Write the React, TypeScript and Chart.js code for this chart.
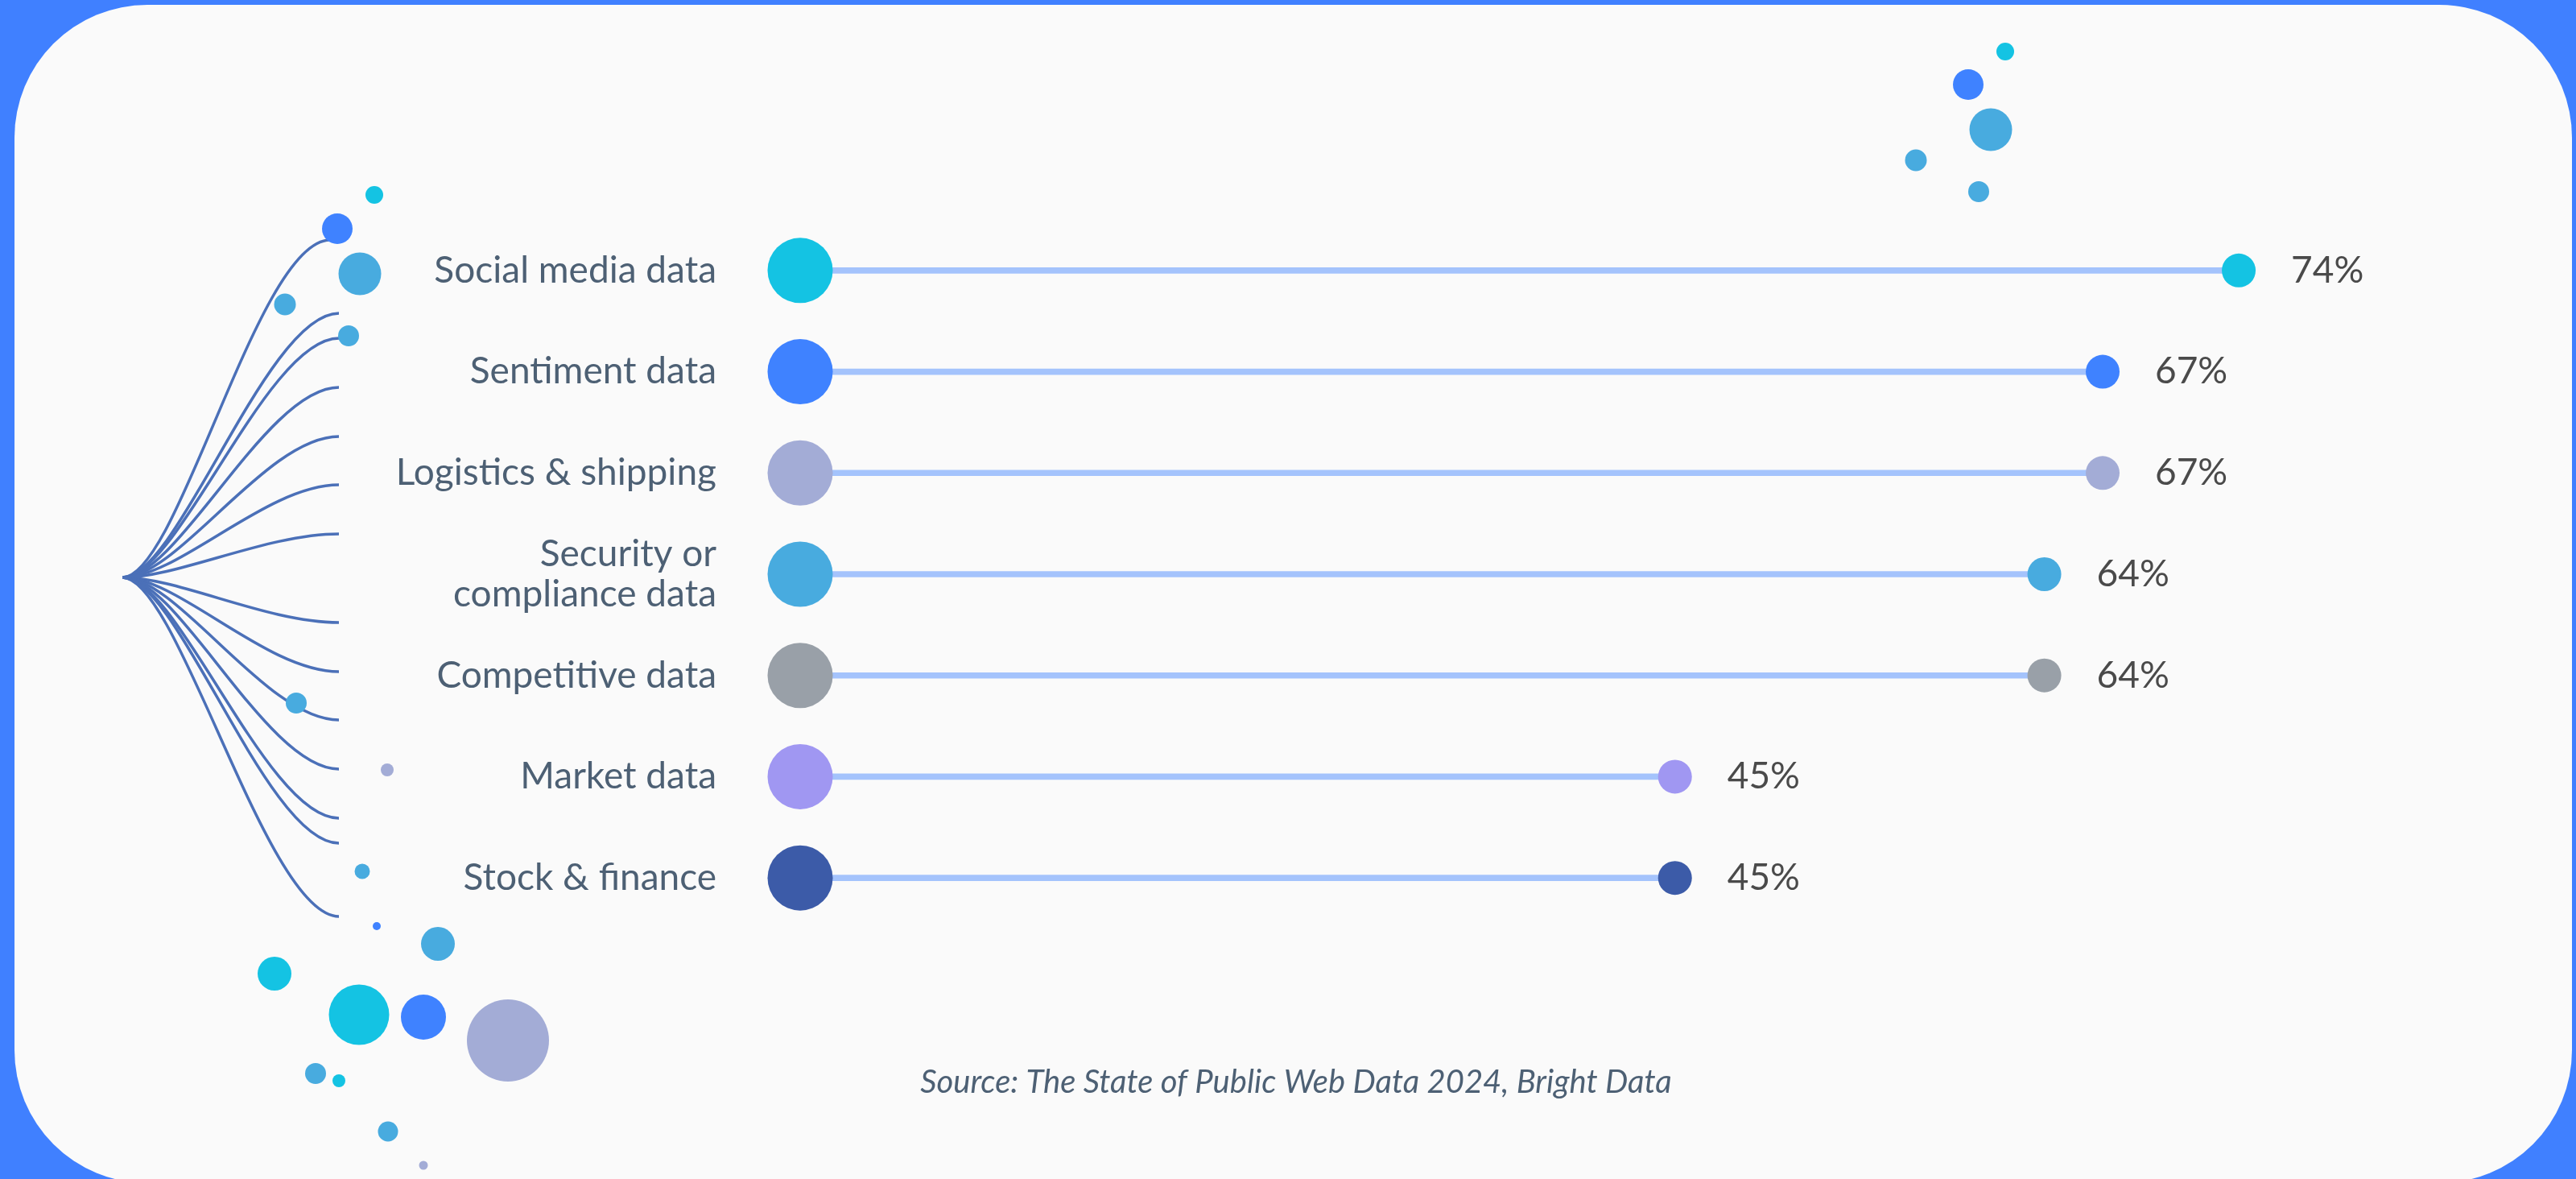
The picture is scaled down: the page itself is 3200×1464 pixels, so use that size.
import React, { useEffect, useRef } from 'react';
import { Chart, registerables } from 'chart.js';

Chart.register(...registerables);

// ---- Data ----
const categories: (string | string[])[] = [
  'Social media data',
  'Sentiment data',
  'Logistics & shipping',
  ['Security or', 'compliance data'],
  'Competitive data',
  'Market data',
  'Stock & finance',
];
const values = [74, 67, 67, 64, 64, 45, 45];
const baseline = [0, 0, 0, 0, 0, 0, 0];
const pointColors = ['#14C3E3', '#3F82FF', '#A3ACD6', '#48ABDF', '#99A0A8', '#A097F2', '#3C5BA8'];
const valueLabels = values.map((v) => `${v}%`);
const sourceText = 'Source: The State of Public Web Data 2024, Bright Data';

// ---- Decoration (non-data ornaments) ----
const C = '#14C3E3';
const B = '#3F82FF';
const M = '#48ABDF';
const L = '#A3ACD6';
const branchRoot = [152, 717];
const branchEnds = [
  [410, 298], [421, 389], [421, 420], [421, 481], [421, 542], [421, 602], [421, 663],
  [421, 773], [421, 834], [421, 894], [421, 955], [421, 1016], [421, 1047], [421, 1138],
];
const decoDots: [number, number, number, string][] = [
  [465, 242, 11, C], [419, 284, 19, B], [447, 340, 26.5, M], [354, 378, 13.5, M], [433, 417, 13, M],
  [368, 873, 13, M], [481, 956, 8, L], [450, 1082, 9.5, M], [468, 1150, 5, B], [544, 1172, 21, M],
  [341, 1209, 21, C], [446, 1260, 37.5, C], [526, 1263, 28, B], [631, 1292, 51, L], [392, 1333, 13, M],
  [421, 1342, 8, C], [482, 1405, 12.5, M], [526, 1447, 5.5, L],
  [2491, 64, 11, C], [2445, 105, 19, B], [2473, 161, 26.5, M], [2380, 199, 13.5, M], [2458, 238, 13, M],
];

const decorPlugin = {
  id: 'decor',
  beforeDatasetsDraw(chart: any) {
    const ctx = chart.ctx as CanvasRenderingContext2D;
    ctx.save();
    ctx.strokeStyle = '#4B70B8';
    ctx.lineWidth = 3.5;
    for (const [ex, ey] of branchEnds) {
      ctx.beginPath();
      ctx.moveTo(branchRoot[0], branchRoot[1]);
      ctx.bezierCurveTo(branchRoot[0] + 70, branchRoot[1], ex - 90, ey, ex, ey);
      ctx.stroke();
    }
    for (const [x, y, r, col] of decoDots) {
      ctx.beginPath();
      ctx.fillStyle = col;
      ctx.arc(x, y, r, 0, Math.PI * 2);
      ctx.fill();
    }
    ctx.restore();
  },
};

const valueLabelPlugin = {
  id: 'valueLabels',
  afterDatasetsDraw(chart: any) {
    const ctx = chart.ctx as CanvasRenderingContext2D;
    const meta = chart.getDatasetMeta(0);
    ctx.save();
    ctx.font = '46px Lato';
    ctx.fillStyle = '#4A4A4A';
    ctx.textAlign = 'left';
    ctx.textBaseline = 'middle';
    meta.data.forEach((pt: any, i: number) => {
      ctx.fillText(valueLabels[i], pt.x + 65, pt.y);
    });
    ctx.restore();
  },
};

export default function App() {
  const ref = useRef<HTMLCanvasElement>(null);

  useEffect(() => {
    const chart = new Chart(ref.current as HTMLCanvasElement, {
      type: 'bar',
      data: {
        labels: categories as any,
        datasets: [
          {
            type: 'line',
            label: 'end',
            data: values,
            indexAxis: 'y',
            showLine: false,
            pointRadius: 21,
            pointBackgroundColor: pointColors,
            pointBorderWidth: 0,
            clip: false,
            order: 1,
          } as any,
          {
            type: 'line',
            label: 'start',
            data: baseline,
            indexAxis: 'y',
            showLine: false,
            pointRadius: 40.5,
            pointBackgroundColor: pointColors,
            pointBorderWidth: 0,
            clip: false,
            order: 2,
          } as any,
          {
            type: 'bar',
            label: 'stem',
            data: values,
            indexAxis: 'y',
            backgroundColor: '#A4C3FC',
            barThickness: 7,
            order: 3,
          } as any,
        ],
      },
      options: {
        indexAxis: 'y',
        animation: false,
        responsive: false,
        devicePixelRatio: 1,
        events: [],
        layout: { padding: { left: 125, right: 105, top: 273, bottom: 96 } },
        scales: {
          x: { type: 'linear', min: 0, max: 87, display: false },
          y: {
            type: 'category',
            position: 'left',
            grid: { display: false, drawTicks: false },
            border: { display: false },
            ticks: {
              padding: 104,
              color: '#4D6074',
              font: { family: 'Lato', size: 46, lineHeight: 1.1 },
            },
            afterFit(scale: any) {
              scale.width = 869;
            },
          },
        },
        plugins: {
          legend: { display: false },
          tooltip: { enabled: false },
          title: {
            display: true,
            position: 'bottom',
            text: sourceText,
            color: '#4D6074',
            font: { family: 'Lato', size: 40, style: 'italic', weight: 'normal' },
            padding: { top: 167, bottom: 0 },
          },
        },
      },
      plugins: [decorPlugin, valueLabelPlugin],
    } as any);
    return () => chart.destroy();
  }, []);

  return (
    <div
      style={{
        position: 'fixed',
        left: 0,
        top: 0,
        width: 3200,
        height: 1464,
        background: '#4080FF',
        overflow: 'hidden',
      }}
    >
      <div
        style={{
          position: 'absolute',
          left: 18,
          top: 6,
          width: 3177,
          height: 1463,
          borderRadius: 165,
          background: '#FAFAFA',
        }}
      />
      <canvas
        ref={ref}
        width={3200}
        height={1464}
        style={{ position: 'absolute', left: 0, top: 0, width: 3200, height: 1464 }}
      />
    </div>
  );
}
